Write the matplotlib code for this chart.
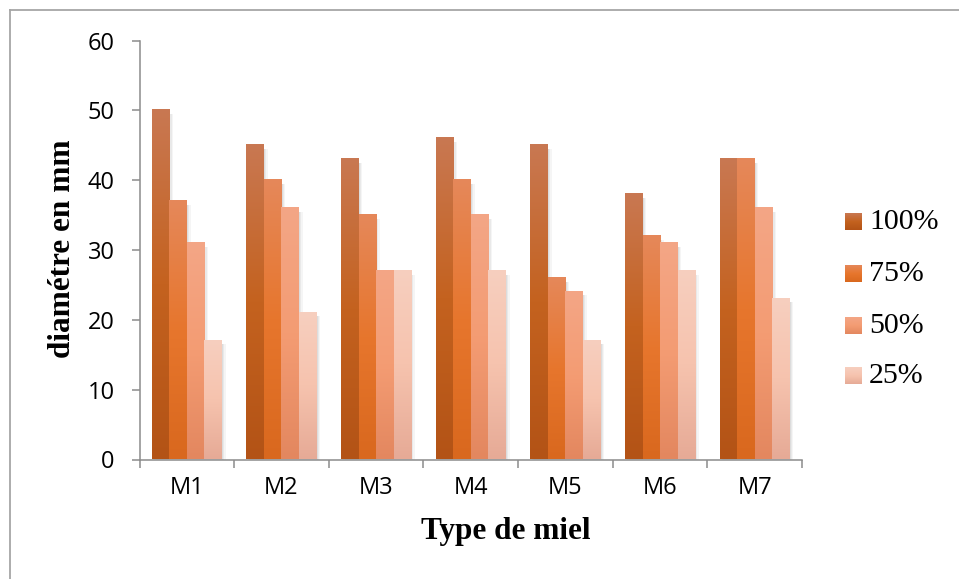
import numpy as np
import matplotlib
matplotlib.use("Agg")
from matplotlib import pyplot as plt
from matplotlib.colors import LinearSegmentedColormap
from matplotlib.lines import Line2D
from matplotlib.patches import Rectangle

# ================= données =================
types_miel = ['M1', 'M2', 'M3', 'M4', 'M5', 'M6', 'M7']
concentrations = ['100%', '75%', '50%', '25%']
d_100 = [50, 45, 43, 46, 45, 38, 43]
d_75 = [37, 40, 35, 40, 26, 32, 43]
d_50 = [31, 36, 27, 35, 24, 31, 36]
d_25 = [17, 21, 27, 27, 17, 27, 23]
y_ticks = [0, 10, 20, 30, 40, 50, 60]

# dégradés (haut, milieu, bas) façon Excel
gradients = [
    ['#C97852', '#C4621F', '#B35316'],
    ['#E5885A', '#E7762D', '#D9681E'],
    ['#F3A686', '#F49C73', '#E3875F'],
    ['#F7CFBF', '#F6C3AE', '#E6AA96'],
]

W, H = 959, 579
fig = plt.figure(figsize=(W / 100, H / 100), dpi=100)
fig.patch.set_facecolor('white')

# cadre extérieur (seuls haut et gauche visibles)
fig.add_artist(Line2D([10 / W, 10 / W], [0, 1 - 10 / H], color='#A6A6A6', lw=1.3))
fig.add_artist(Line2D([10 / W, 1], [1 - 10 / H, 1 - 10 / H], color='#A6A6A6', lw=1.3))

x0, x1 = 139.5, 802
y0, y1 = 459.5, 40.7
ax = fig.add_axes([x0 / W, 1 - y0 / H, (x1 - x0) / W, (y0 - y1) / H])

series = [d_100, d_75, d_50, d_25]
bar_w = 0.185
group_w = bar_w * len(series)
x = np.arange(len(types_miel)) + 0.5

cmaps = [LinearSegmentedColormap.from_list('g%d' % i, g[::-1]) for i, g in enumerate(gradients)]
grad = np.linspace(0, 1, 256).reshape(-1, 1)

for i, vals in enumerate(series):
    left = x - group_w / 2 + i * bar_w
    # barres invisibles pour la géométrie, puis dégradé par-dessus
    bars = ax.bar(left, vals, width=bar_w, align='edge', color='none',
                  linewidth=0, zorder=2)
    for b in bars:
        bx, bw, bh = b.get_x(), b.get_width(), b.get_height()
        # ombre portée légère à droite
        for k, a in [(0.04, 0.08), (0.025, 0.10), (0.012, 0.12)]:
            ax.add_patch(Rectangle((bx + k, 0), bw, bh - 0.5, color='#808080',
                                   alpha=a, lw=0, zorder=1))
        ax.imshow(grad, extent=(bx, bx + bw, 0, bh), origin='lower', aspect='auto',
                  cmap=cmaps[i], zorder=3, interpolation='bilinear')

ax.set_xlim(0, len(types_miel))
ax.set_ylim(0, 60)

# axes
for s in ['top', 'right']:
    ax.spines[s].set_visible(False)
for s in ['left', 'bottom']:
    ax.spines[s].set_color('#8C8C8C')
    ax.spines[s].set_linewidth(1.1)
    ax.spines[s].set_zorder(4)

ax.set_yticks(y_ticks)
ax.set_yticklabels([str(t) for t in y_ticks], fontsize=17, fontfamily='Open Sans')
ax.set_xticks(np.arange(len(types_miel) + 1))
ax.set_xticklabels([''] * (len(types_miel) + 1))
ax.set_xticks(x, minor=True)
ax.set_xticklabels(types_miel, minor=True, fontsize=17, fontfamily='Open Sans')
ax.tick_params(axis='y', direction='out', length=6, width=1.1, color='#8C8C8C', pad=12)
ax.tick_params(axis='x', which='major', direction='out', length=6, width=1.1, color='#8C8C8C')
ax.tick_params(axis='x', which='minor', length=0, pad=12)

fig.text(506 / W, 1 - 532 / H, 'Type de miel', ha='center', va='center',
         fontsize=22.5, fontweight='bold', fontfamily='Liberation Serif')
fig.text(63 / W, 1 - 249 / H, 'diamétre en mm', ha='center', va='center', rotation=90,
         fontsize=22.5, fontweight='bold', fontfamily='Liberation Serif')

# légende manuelle avec carrés en dégradé
lax = fig.add_axes([0, 0, 1, 1], zorder=5)
lax.axis('off')
leg_y = [222, 274, 326, 376]
for i, lab in enumerate(concentrations):
    cy = leg_y[i]
    lax.imshow(grad, extent=(845, 862, cy + 8.5, cy - 8.5), origin='lower', aspect='auto',
               cmap=cmaps[i], interpolation='bilinear')
    lax.text(869, cy, lab, ha='left', va='center', fontsize=21.5,
             fontfamily='Liberation Serif')
lax.set_xlim(0, W)
lax.set_ylim(H, 0)

fig.savefig('out.png', dpi=100)
